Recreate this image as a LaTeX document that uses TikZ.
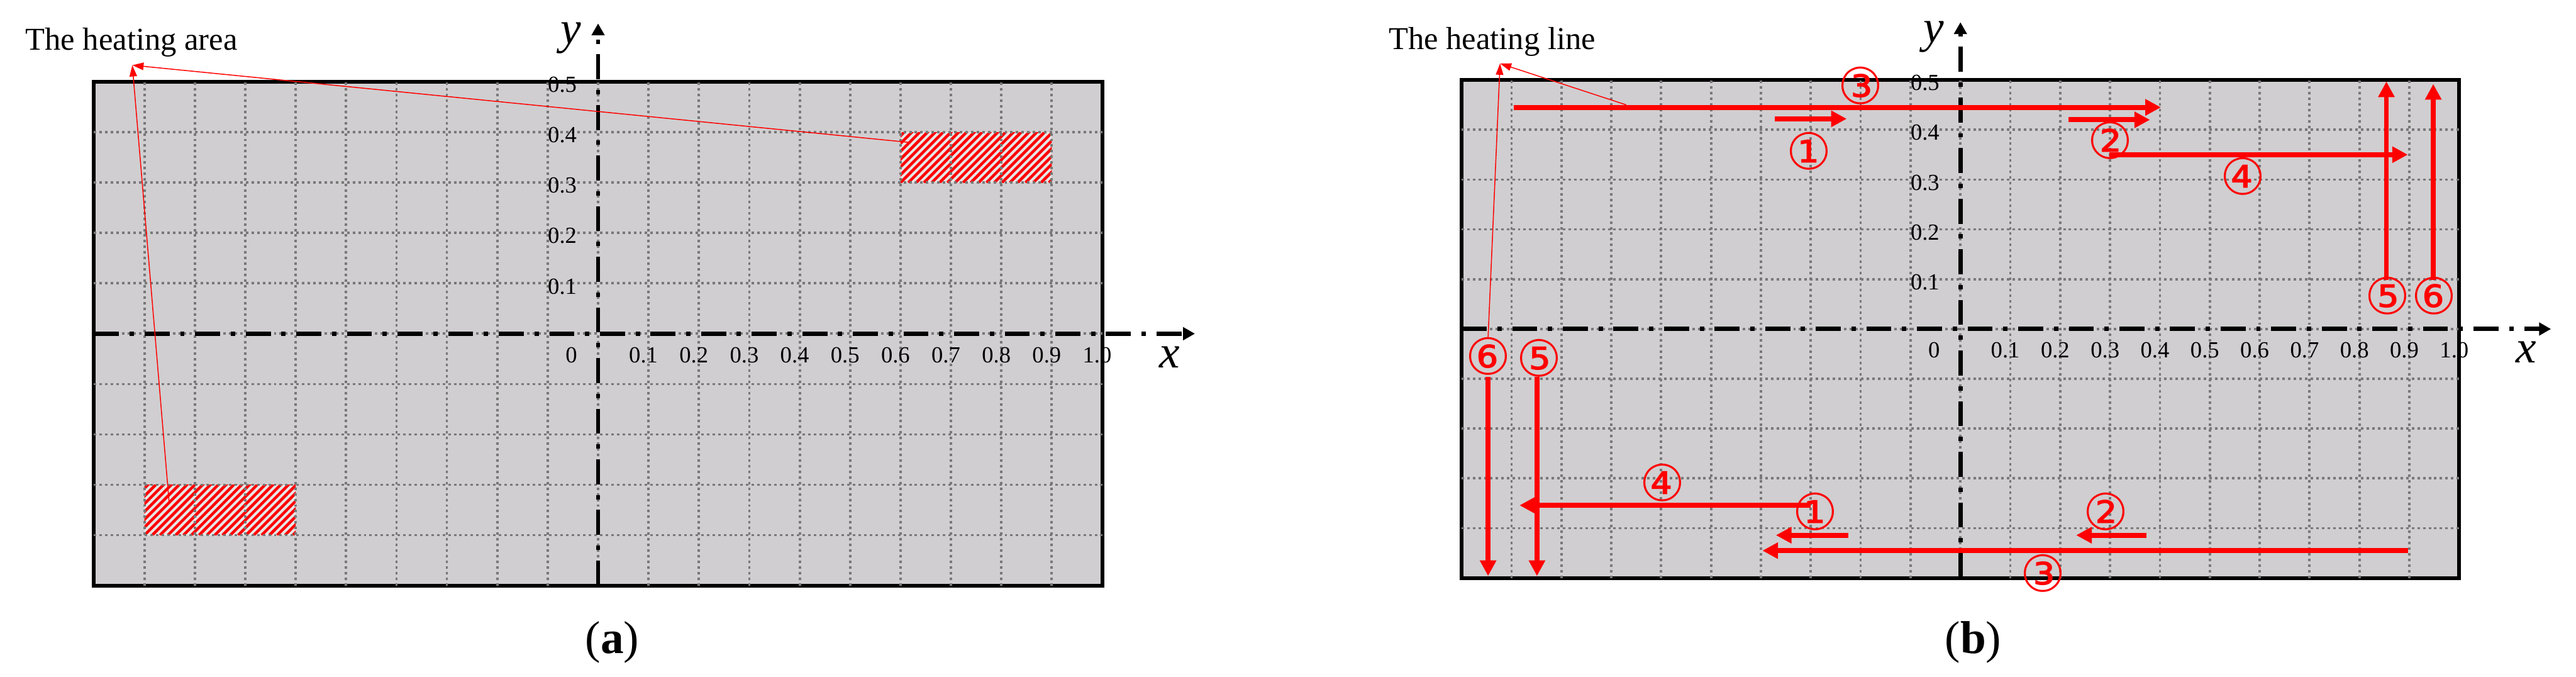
\documentclass[tikz,border=0pt]{standalone}
\usepackage{fontspec}
\setmainfont{Liberation Serif}
\newfontfamily\circfont{DejaVu Sans}
\usetikzlibrary{arrows.meta}

\definecolor{panelgray}{RGB}{208,206,208}
\definecolor{gridgray}{RGB}{120,120,120}
\definecolor{hatchbg}{RGB}{230,230,230}
\definecolor{pred}{RGB}{255,0,0}

\tikzset{
 panelbox/.style={fill=panelgray, draw=black, line width=0.06cm},
 gridline/.style={draw=gridgray, line width=0.038cm, dash pattern=on 0.04cm off 0.05cm},
 axisline/.style={draw=black, line width=0.07cm, dash pattern=on 0.40cm off 0.17cm on 0.07cm off 0.17cm, -{Triangle[length=0.19cm,width=0.20cm]}},
 ticklab/.style={font=\fontsize{10.5}{12}\selectfont, inner sep=0pt},
 axislab/.style={font=\fontsize{21}{24}\selectfont\itshape, inner sep=0pt},
 hatchline/.style={draw=pred, line width=0.045cm},
 heatarrow/.style={draw=pred, line width=0.08cm, -{Triangle[length=0.25cm,width=0.25cm]}},
 circlab/.style={text=pred, font=\circfont\fontsize{23}{23}\selectfont, inner sep=0pt},
 pointer/.style={draw=pred, line width=0.015cm, -{Triangle[length=0.18cm,width=0.12cm]}},
 titlelab/.style={font=\fontsize{14.5}{17}\selectfont, inner sep=0pt},
 panellab/.style={font=\fontsize{21}{24}\selectfont, inner sep=0pt},
}

\newcommand\panelbase{%
  \draw[panelbox] (-1,-0.5) rectangle (1,0.5);
}
\newcommand\panelgrid[1]{%
  \foreach \g in {-9,...,9} \draw[gridline] (\g/10,-0.5) -- (\g/10,0.5);
  \foreach \g in {-4,...,4} \draw[gridline] (-1,\g/10) -- (1,\g/10);
  \coordinate (#1xs) at (-1,0);
  \coordinate (#1xe) at (1.184,0);
  \coordinate (#1ys) at (0,-0.5);
  \coordinate (#1ye) at (0,0.616);
  \draw[axisline] (#1xs) -- (#1xe);
  \draw[axisline] (#1ys) -- (#1ye);
  \foreach \k in {1,...,9} \node[ticklab] (#1xt\k) at (\k/10-0.01,-0.043) {0.\k};
  \node[ticklab] (#1xt10) at (0.99,-0.043) {1.0};
  \node[ticklab] (#1xt0) at (-0.053,-0.043) {0};
  \foreach \k in {1,...,5} \node[ticklab] (#1yt\k) at (-0.071,\k/10-0.006) {0.\k};
  \node[axislab] (#1xl) at (1.134,-0.046) {x};
  \node[axislab] (#1yl) at (-0.054,0.587) {y};
}
\newcommand\hatchrect[1]{%
  \begin{scope}[shift={#1}, x=1cm, y=1cm]
    \clip (0,0) rectangle (2.421,0.806);
    \fill[hatchbg] (0,0) rectangle (2.421,0.806);
    \foreach \i in {-8,...,20} \draw[hatchline] (\i*0.125,0) -- ++(1,1);
  \end{scope}
}

\begin{document}
\begin{tikzpicture}
\useasboundingbox (0,0) rectangle (41.24,10.83);

% ---------------- panel (a)
\begin{scope}[shift={(9.575cm,5.49cm)}, x=8.07cm, y=8.06cm]
  \panelbase
  \hatchrect{(0.6,0.3)}
  \hatchrect{(-0.9,-0.4)}
  \panelgrid{a}
  \coordinate (atip) at (-0.924,0.533);
  \coordinate (ahr) at (0.615,0.38);
  \coordinate (ahl) at (-0.851,-0.335);
  \draw[pointer] (ahr) -- (atip);
  \draw[pointer] (ahl) -- (atip);
\end{scope}
\node[titlelab, anchor=base west] (atitle) at (0.40,10.03) {The heating area};
\node[panellab] (alab) at (9.80,0.55) {(\textbf{a})};

% ---------------- panel (b)
\begin{scope}[shift={(31.385cm,5.565cm)}, x=7.985cm, y=7.97cm]
  \panelbase
  \panelgrid{b}
  % upper arrows
  \coordinate (b3ts) at (-0.895,0.445); \coordinate (b3te) at (0.402,0.445);
  \coordinate (b1ts) at (-0.372,0.422); \coordinate (b1te) at (-0.228,0.422);
  \coordinate (b2ts) at (0.217,0.420);  \coordinate (b2te) at (0.380,0.420);
  \coordinate (b4ts) at (0.299,0.350);  \coordinate (b4te) at (0.897,0.350);
  \coordinate (b5ts) at (0.854,0.098);  \coordinate (b5te) at (0.854,0.497);
  \coordinate (b6ts) at (0.948,0.098);  \coordinate (b6te) at (0.948,0.492);
  % lower arrows
  \coordinate (b6ls) at (-0.947,-0.096); \coordinate (b6le) at (-0.947,-0.496);
  \coordinate (b5ls) at (-0.849,-0.096); \coordinate (b5le) at (-0.849,-0.496);
  \coordinate (b4ls) at (-0.300,-0.354); \coordinate (b4le) at (-0.884,-0.354);
  \coordinate (b1ls) at (-0.225,-0.414); \coordinate (b1le) at (-0.370,-0.414);
  \coordinate (b3ls) at (0.897,-0.445);  \coordinate (b3le) at (-0.397,-0.445);
  \coordinate (b2ls) at (0.373,-0.414);  \coordinate (b2le) at (0.232,-0.414);
  \foreach \p in {3t,1t,2t,4t,5t,6t,6l,5l,4l,1l,3l,2l}
    \draw[heatarrow] (b\p s) -- (b\p e);
  % circled labels
  \node[circlab] (bc1t) at (-0.304,0.357) {①};
  \node[circlab] (bc3t) at (-0.200,0.489) {③};
  \node[circlab] (bc2t) at (0.300,0.379) {②};
  \node[circlab] (bc4t) at (0.567,0.307) {④};
  \node[circlab] (bc5t) at (0.857,0.067) {⑤};
  \node[circlab] (bc6t) at (0.950,0.067) {⑥};
  \node[circlab] (bc6l) at (-0.947,-0.055) {⑥};
  \node[circlab] (bc5l) at (-0.845,-0.058) {⑤};
  \node[circlab] (bc4l) at (-0.597,-0.309) {④};
  \node[circlab] (bc1l) at (-0.291,-0.367) {①};
  \node[circlab] (bc3l) at (0.166,-0.490) {③};
  \node[circlab] (bc2l) at (0.291,-0.367) {②};
  % pointers
  \coordinate (btip) at (-0.923,0.533);
  \coordinate (bpa) at (-0.670,0.450);
  \draw[pointer] (bpa) -- (btip);
  \draw[pointer] (bc6l.north) -- (btip);
\end{scope}
\node[titlelab, anchor=base east] (btitle) at (25.55,10.04) {The heating line};
\node[panellab] (blab) at (31.59,0.55) {(\textbf{b})};
\end{tikzpicture}
\end{document}
